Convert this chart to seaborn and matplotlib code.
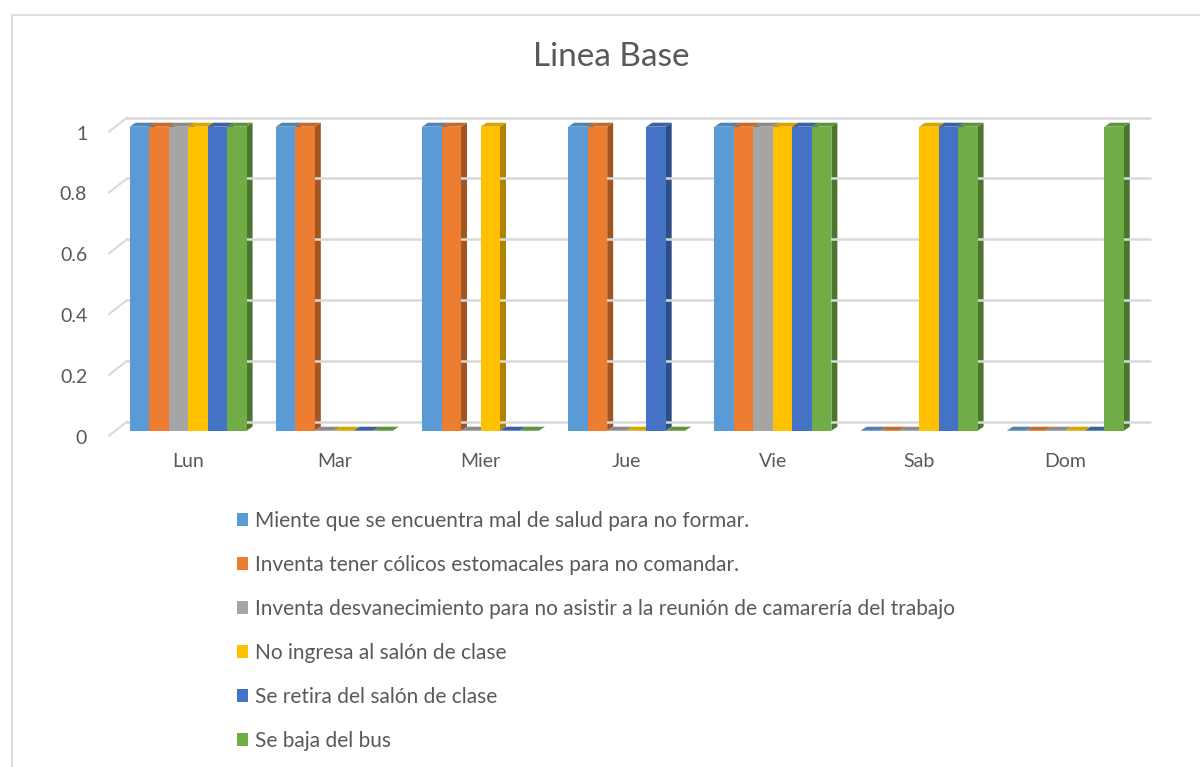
import numpy as np
import pandas as pd
import matplotlib
matplotlib.use("Agg")
import matplotlib.pyplot as plt
from matplotlib.patches import Polygon, Rectangle
from matplotlib.colors import to_rgb
from matplotlib.transforms import ScaledTranslation
import seaborn as sns

# datos (1 = ocurre ese dia)
dias = ["Lun", "Mar", "Mier", "Jue", "Vie", "Sab", "Dom"]
series = [
    "Miente que se encuentra mal de salud para no formar.",
    "Inventa tener cólicos estomacales para no comandar.",
    "Inventa desvanecimiento para no asistir a la reunión de camarería del trabajo",
    "No ingresa al salón de clase",
    "Se retira del salón de clase",
    "Se baja del bus",
]
miente = [1, 1, 1, 1, 1, 0, 0]
colicos = [1, 1, 1, 1, 1, 0, 0]
desvanecimiento = [1, 0, 0, 0, 1, 0, 0]
no_ingresa = [1, 0, 1, 0, 1, 1, 0]
se_retira = [1, 0, 0, 1, 1, 1, 0]
baja_bus = [1, 0, 0, 0, 1, 1, 1]
y_ticks = [0, 0.2, 0.4, 0.6, 0.8, 1]
y_tick_labels = ["0", "0.2", "0.4", "0.6", "0.8", "1"]
colores = ["#5B9BD5", "#ED7D31", "#A5A5A5", "#FFC000", "#4472C4", "#70AD47"]

valores = [miente, colicos, desvanecimiento, no_ingresa, se_retira, baja_bus]
df = pd.DataFrame(
    [(d, s, v[i]) for s, v in zip(series, valores) for i, d in enumerate(dias)],
    columns=["dia", "serie", "valor"],
)

sns.set_theme(style="white")
plt.rcParams["font.family"] = ["Lato", "DejaVu Sans"]
GRIS = "#595959"

W, H = 1200, 767
fig = plt.figure(figsize=(W / 100, H / 100), dpi=100)
ax_w, ax_h = 1023.4, 304
ax = fig.add_axes([115 / W, 1 - 430.7 / H, ax_w / W, ax_h / H])

sns.barplot(data=df, x="dia", y="valor", hue="serie", hue_order=series,
            palette=colores, width=0.8, saturation=1, linewidth=0, ax=ax)
ax.set_xlim(-0.5, len(dias) - 0.5)
ax.set_ylim(0, 1)

# efecto 3D: cara lateral y superior de cada barra
dx = 6 / (ax_w / len(dias))
dy = 4 / ax_h
for cont in ax.containers:
    for bar in cont:
        x, w, h = bar.get_x(), bar.get_width(), bar.get_height()
        c = np.array(to_rgb(bar.get_facecolor()))
        z = bar.get_zorder() - 0.5
        ax.add_patch(Polygon([(x + w, 0), (x + w + dx, dy), (x + w + dx, h + dy), (x + w, h)],
                             closed=True, fc=c * 0.68, lw=0, zorder=z, clip_on=False))
        ax.add_patch(Polygon([(x, h), (x + dx, h + dy), (x + w + dx, h + dy), (x + w, h)],
                             closed=True, fc=c * 0.85, lw=0, zorder=z, clip_on=False))

# lineas de cuadricula en la pared del fondo
gx, gy = 12 / ax_w, 9 / ax_h
for t in y_ticks:
    ax.plot([gx, 1 + gx], [t + gy, t + gy], transform=ax.get_yaxis_transform(),
            color="#d9d9d9", lw=1.8, zorder=0.5, clip_on=False)
    ax.plot([-6 / ax_w, gx], [t - 5 / ax_h, t + gy], transform=ax.get_yaxis_transform(),
            color="#d9d9d9", lw=1.5, zorder=0.5, clip_on=False)

ax.set_yticks(y_ticks, labels=y_tick_labels)
ax.set_xlabel("")
ax.set_ylabel("")
ax.tick_params(axis="y", length=0, pad=20, labelsize=14, labelcolor=GRIS)
ax.tick_params(axis="x", length=0, pad=16, labelsize=14, labelcolor=GRIS)
for sp in ax.spines.values():
    sp.set_visible(False)
ax.patch.set_alpha(0)
# etiquetas del eje y un poco mas abajo, como en Excel 3D
bajar = ScaledTranslation(0, -6 / 100, fig.dpi_scale_trans)
for lbl in ax.get_yticklabels():
    lbl.set_transform(lbl.get_transform() + bajar)

handles, labels = ax.get_legend_handles_labels()
ax.get_legend().remove()
fig.legend(handles, labels, loc="upper left", bbox_to_anchor=(237 / W, 1 - 511 / H),
           frameon=False, fontsize=15, labelcolor=GRIS, borderpad=0, borderaxespad=0,
           handlelength=0.53, handleheight=0.53, handletextpad=0.34, labelspacing=1.15)

fig.text(611.5 / W, 1 - 57 / H, "Linea Base", ha="center", va="center",
         fontsize=24, color=GRIS)

# borde del area del grafico
fig.add_artist(Rectangle((12 / W, -0.1), 1.2, 1.1 - 15 / H, transform=fig.transFigure,
                         fill=False, ec="#d9d9d9", lw=1.2))

fig.savefig("out.png", dpi=100)
